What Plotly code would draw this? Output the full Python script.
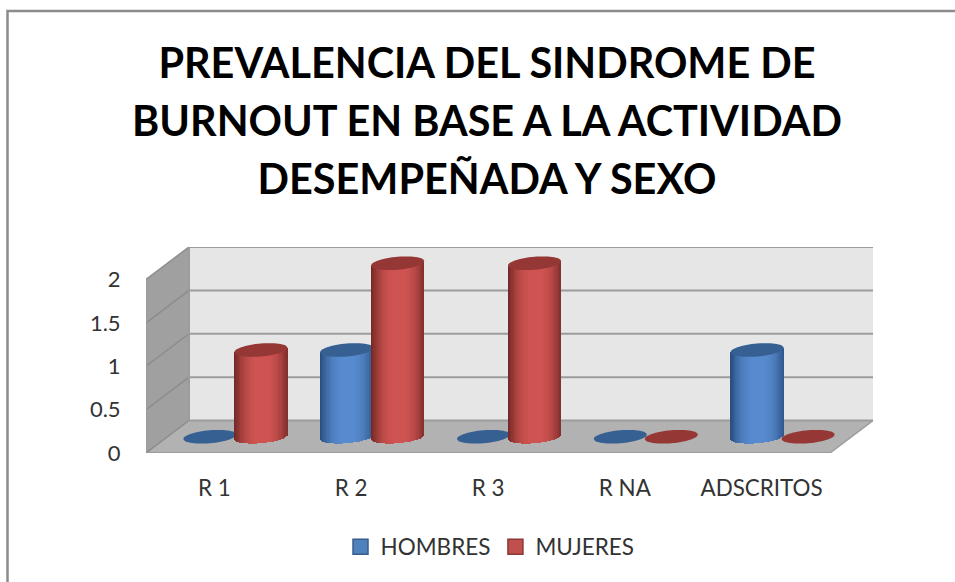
import numpy as np
import plotly.graph_objects as go

categories = ["R 1", "R 2", "R 3", "R NA", "ADSCRITOS"]
hombres = [0, 1, 0, 0, 1]
mujeres = [1, 2, 2, 0, 0]
y_ticks = [0, 0.5, 1, 1.5, 2]
y_tick_labels = ["0", "0.5", "1", "1.5", "2"]
title_lines = ["PREVALENCIA DEL SINDROME DE", "BURNOUT EN BASE A LA ACTIVIDAD", "DESEMPEÑADA Y SEXO"]

W, H = 955, 582
L, R, T, B = 146.0, 873.0, 247.0, 453.0
PX_X = (830 - L) / 5          # pixels per category
PX_Y = 86.75                  # pixels per unit
DX = (R - L) / PX_X - 5       # depth, in x data units
DY = (B - T) / PX_Y - 2       # depth, in y data units
A = 26.5 / PX_X               # ellipse half width
E = 6.5 / PX_Y                # ellipse half height
TILT = 2.2 / PX_Y
OFFS = {"h": -26.0 / PX_X, "m": 25.0 / PX_X}
STYLE = {
    "h": dict(dark=(42, 80, 130), light=(88, 140, 208), top="#376092", name="HOMBRES", swatch="#4f81bd", edge="#385d8a"),
    "m": dict(dark=(118, 42, 40), light=(208, 84, 82), top="#953735", name="MUJERES", swatch="#c0504d", edge="#8c3836"),
}
N = 42


def shade(style, t):
    k = max(0.0, 1 - abs(t - 0.05) ** 2.6)
    c = [int(d + (l - d) * k) for d, l in zip(style["dark"], style["light"])]
    return f"rgb({c[0]},{c[1]},{c[2]})"


def cylinder(cat_i, value, key):
    cx = cat_i + 0.5 + DX / 2 + OFFS[key]
    step = 2 * A / N
    ts = (np.arange(N) + 0.5) / N * 2 - 1
    xs = cx + ts * A
    bases = DY / 2 + TILT * ts - E * np.sqrt(1 - ts ** 2)
    tops = DY / 2 + value + TILT * ts
    return xs, bases, tops - bases, step, [shade(STYLE[key], t) for t in ts]


def ellipse(cat_i, value, key):
    cx = cat_i + 0.5 + DX / 2 + OFFS[key]
    th = np.linspace(0, 2 * np.pi, 61)
    return cx + A * np.cos(th), DY / 2 + value + E * np.sin(th) + TILT * np.cos(th)


fig = go.Figure()

# legend entries
for key in ("h", "m"):
    s = STYLE[key]
    fig.add_trace(go.Scatter(x=[None], y=[None], mode="markers", name=s["name"],
                             marker=dict(symbol="square", size=15, color=s["swatch"], line=dict(color=s["edge"], width=1.5))))

# flat (zero-value) ellipses sit on the floor, under every cylinder
series = {"h": hombres, "m": mujeres}
for key, vals in series.items():
    for i, v in enumerate(vals):
        if v == 0:
            ex, ey = ellipse(i, v, key)
            fig.add_trace(go.Scatter(x=ex, y=ey, mode="none", fill="toself", fillcolor=STYLE[key]["top"],
                                     showlegend=False, hoverinfo="skip"))

# cylinders: blue on overlay axis 2, red on overlay axis 3 so red sits in front
for key, ax in (("h", "2"), ("m", "3")):
    for i, v in enumerate(series[key]):
        if v == 0:
            continue
        xs, base, hgt, step, cols = cylinder(i, v, key)
        fig.add_trace(go.Bar(x=xs, y=hgt, base=base, width=step, marker=dict(color=cols, line=dict(width=0)),
                             xaxis="x" + ax, yaxis="y" + ax, showlegend=False, hoverinfo="skip"))
        ex, ey = ellipse(i, v, key)
        fig.add_trace(go.Scatter(x=ex, y=ey, mode="none", fill="toself", fillcolor=STYLE[key]["top"],
                                 xaxis="x" + ax, yaxis="y" + ax, showlegend=False, hoverinfo="skip"))

x_max = 5 + DX
y_max = 2 + DY
GRID = "#9c9c9c"
shapes = [
    # back wall
    dict(type="path", path=f"M {DX},{DY} L {x_max},{DY} L {x_max},{y_max} L {DX},{y_max} Z",
         fillcolor="#e6e6e6", line=dict(width=0)),
    # left wall
    dict(type="path", path=f"M 0,0 L {DX},{DY} L {DX},{y_max} L 0,2 Z",
         fillcolor="#a0a0a0", line=dict(width=0)),
    # floor
    dict(type="path", path=f"M 0,0 L 5,0 L {x_max},{DY} L {DX},{DY} Z",
         fillcolor="#b2b2b2", line=dict(width=0)),
]
for v in y_ticks:
    shapes.append(dict(type="line", x0=DX, x1=x_max, y0=v + DY, y1=v + DY, line=dict(color=GRID, width=2)))
    shapes.append(dict(type="line", x0=0, x1=DX, y0=v, y1=v + DY, line=dict(color="#8c8c8c", width=1.5)))
shapes.append(dict(type="line", x0=0, x1=5, y0=0, y1=0, line=dict(color=GRID, width=2)))
shapes.append(dict(type="line", x0=0, x1=0, y0=0, y1=2, line=dict(color=GRID, width=2)))
shapes.append(dict(type="line", x0=5, x1=x_max, y0=0, y1=DY, line=dict(color=GRID, width=1.5)))
shapes.append(dict(type="line", x0=DX, x1=DX, y0=DY, y1=y_max, line=dict(color=GRID, width=2)))
for s in shapes:
    s.update(xref="x", yref="y", layer="below")
# outer chart frame: only its left and top edges fall inside the picture
shapes.append(dict(type="rect", xref="paper", yref="paper",
                   x0=(7.5 - L) / (R - L), x1=(W + 20 - L) / (R - L),
                   y0=(B - H - 20) / (B - T), y1=(B - 11) / (B - T),
                   line=dict(color="#8c8c8c", width=2.5), layer="below"))

hidden = dict(visible=False, fixedrange=True)
title_text = "<br>".join(f'<span style="font-size:41.4px">{t}</span>' for t in title_lines)
fig.update_layout(
    width=W, height=H, autosize=False,
    margin=dict(l=L, r=W - R, t=T, b=H - B, pad=0),
    paper_bgcolor="white", plot_bgcolor="rgba(0,0,0,0)",
    barmode="overlay", bargap=0,
    font=dict(family="Lato", color="#333333", size=20),
    title=dict(text=title_text, font=dict(family="Lato", size=44.6, color="black", weight="bold"),
               x=487 / W, xanchor="center", y=1 - 78 / H, yanchor="top"),
    xaxis=dict(range=[0, x_max], tickmode="array", tickvals=[i + 0.5 for i in range(5)], ticktext=categories,
               showgrid=False, zeroline=False, showline=False, ticks="outside", ticklen=15, tickcolor="rgba(0,0,0,0)",
               tickfont=dict(size=22.4), fixedrange=True),
    yaxis=dict(range=[0, y_max], tickmode="array", tickvals=y_ticks, ticktext=y_tick_labels,
               showgrid=False, zeroline=False, showline=False, ticks="outside", ticklen=20, tickcolor="rgba(0,0,0,0)",
               tickfont=dict(size=22), fixedrange=True),
    xaxis2=dict(range=[0, x_max], overlaying="x", **hidden),
    yaxis2=dict(range=[0, y_max], overlaying="y", **hidden),
    xaxis3=dict(range=[0, x_max], overlaying="x", **hidden),
    yaxis3=dict(range=[0, y_max], overlaying="y", **hidden),
    legend=dict(orientation="h", x=490 / W, xanchor="center", xref="container",
                y=1 - 547 / H, yanchor="middle", yref="container",
                font=dict(size=22.5), itemwidth=30, bgcolor="rgba(0,0,0,0)"),
    shapes=shapes,
)
fig.write_html("out.html", config=dict(displayModeBar=False),
               post_script="document.body.style.margin='0';document.body.style.overflow='hidden';")
